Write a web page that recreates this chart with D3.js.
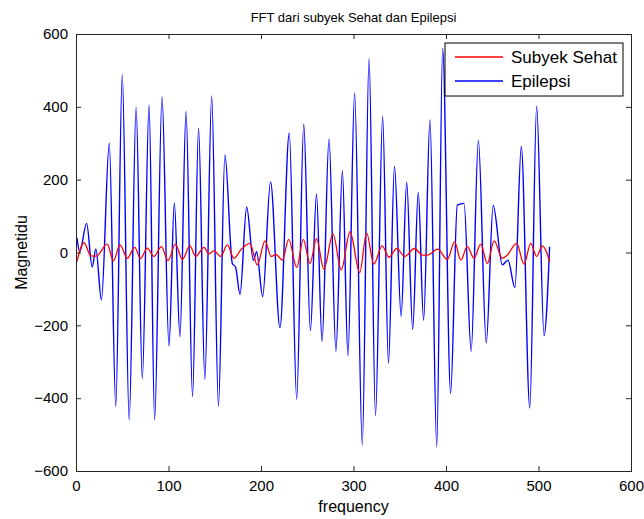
<!DOCTYPE html>
<html>
<head>
<meta charset="utf-8">
<script src="https://cdn.jsdelivr.net/npm/d3@7"></script>
<style>
  html, body { margin: 0; padding: 0; background: #fff; }
  svg { display: block; font-family: 'Liberation Sans', Arial, sans-serif; }
</style>
</head>
<body>
<div id="chart"></div>
<script>
// peaks and troughs (frequency, magnitude)
const epiFreq = [1, 4, 11.5, 17.5, 21.5, 27.5, 36, 43, 50, 57.5, 65, 71.7, 79, 85, 93, 100.5,
  106.3, 112.4, 119, 126, 132.5, 139.3, 146.7, 154, 161, 169, 172.5, 177.3, 184.5, 191.7,
  195.3, 201.8, 210.3, 220.5, 230.6, 238.6, 246.2, 253.4, 260, 266, 273.5, 281, 288, 294,
  301.2, 309.5, 316.8, 323.8, 331.5, 337.8, 344.3, 351.5, 357.5, 364, 370, 375.8, 382.7,
  390, 396.4, 405, 412.2, 419.5, 427.2, 435, 443.5, 451, 460.9, 467, 474.5, 481.4, 490.6,
  498, 506, 512];
const epiMag = [40, 2, 80, -40, 10, -130, 300, -423, 489, -460, 398, -346, 405, -460, 428, -257,
  136, -231, 387, -396, 341, -348, 430, -422, 268, -30, -40, -115, 125, -21,
  2, -121, 194, -206, 328, -403, 352, -214, 161, -244, 312, -271, 224, -284,
  438, -529, 533, -448, 374, -304, 236, -175, 193, -211, 165, -186, 365,
  -534, 560, -387, 130, 135, -271, 308, -248, 129, -34, -21, -96, 291, -427,
  402, -228, 16];

const sehatFreq = [1, 8.6, 16, 22, 33.8, 40.4, 47.6, 55.5, 63.4, 69.9, 77, 84.3, 92.3, 99.5,
  107.4, 115, 123.2, 129.4, 138.4, 143.8, 149.2, 156.4, 163.6, 170.8, 178, 188, 196, 204.3,
  211, 216, 223, 230, 238.6, 245.7, 253, 260, 268, 277.8, 286.8, 296.2, 306.7, 314.2, 322,
  331, 338.4, 346.7, 355.3, 366, 374.4, 380, 391, 401.4, 409.4, 416, 423, 430.3, 437.5,
  444.7, 452, 460.9, 466, 476.4, 484.3, 491.6, 498, 504, 508, 512];
const sehatMag = [-25, 27, -9, -10, 23, -23, 21, -16, 14, -16, 12, -11, 16, -22,
  23, -19, 18, -11, 14, -4, 5, -11, 21, -16, 7, 25, -34, 32,
  -11, -5, -21, 36, -41, 36, -30, 38, -46, 51, -48, 57, -55, 53, -32,
  18, -13, 11, -11, 11, -7, -7, 9, -19, 29, -21, 16, -16, 23,
  -30, 32, -16, -8, 25, -32, 25, -11, 18, 5, -25];

const xTicks = [0, 100, 200, 300, 400, 500, 600];
const yTicks = [-600, -400, -200, 0, 200, 400, 600];
const seriesNames = ['Subyek Sehat', 'Epilepsi'];
const seriesColors = ['#ff0000', '#0000ff'];

const width = 644, height = 519;
const margin = { top: 34, right: 13, bottom: 48, left: 76 };

const svg = d3.select('#chart').append('svg')
  .attr('width', width)
  .attr('height', height);

const x = d3.scaleLinear().domain([0, 600]).range([margin.left, width - margin.right]);
const y = d3.scaleLinear().domain([-600, 600]).range([height - margin.bottom, margin.top]);

const line = d3.line()
  .x(d => x(d[0]))
  .y(d => y(d[1]))
  .curve(d3.curveMonotoneX);

const epi = epiFreq.map((f, i) => [f, epiMag[i]]);
const sehat = sehatFreq.map((f, i) => [f, sehatMag[i]]);

svg.append('path').datum(epi)
  .attr('fill', 'none').attr('stroke', seriesColors[1]).attr('stroke-width', 1.4)
  .attr('d', line);

svg.append('path').datum(sehat)
  .attr('fill', 'none').attr('stroke', seriesColors[0]).attr('stroke-width', 1.3)
  .attr('d', line);

// MATLAB style box, ticks pointing inward on every side
function styleAxis(g, showText) {
  g.select('.domain').attr('stroke', '#262626').attr('stroke-width', 1.2);
  g.selectAll('.tick line').attr('stroke', '#262626');
  g.selectAll('.tick text')
    .attr('fill', '#000')
    .style('font-size', '15px')
    .style('display', showText ? null : 'none');
}

svg.append('g')
  .attr('transform', `translate(0,${y(-600)})`)
  .call(d3.axisBottom(x).tickValues(xTicks).tickSizeInner(-5).tickSizeOuter(0).tickPadding(9))
  .call(g => styleAxis(g, true));

svg.append('g')
  .attr('transform', `translate(0,${y(600)})`)
  .call(d3.axisTop(x).tickValues(xTicks).tickSizeInner(-5).tickSizeOuter(0))
  .call(g => styleAxis(g, false));

svg.append('g')
  .attr('transform', `translate(${x(0)},0)`)
  .call(d3.axisLeft(y).tickValues(yTicks).tickSizeInner(-5).tickSizeOuter(0).tickPadding(8))
  .call(g => styleAxis(g, true));

svg.append('g')
  .attr('transform', `translate(${x(600)},0)`)
  .call(d3.axisRight(y).tickValues(yTicks).tickSizeInner(-5).tickSizeOuter(0))
  .call(g => styleAxis(g, false));

svg.selectAll('.domain').attr('shape-rendering', 'crispEdges');

// titles
svg.append('text')
  .attr('x', (x(0) + x(600)) / 2).attr('y', 22)
  .attr('text-anchor', 'middle')
  .style('font-size', '13px')
  .text('FFT dari subyek Sehat dan Epilepsi');

svg.append('text')
  .attr('x', (x(0) + x(600)) / 2).attr('y', 512)
  .attr('text-anchor', 'middle')
  .style('font-size', '16px')
  .text('frequency');

svg.append('text')
  .attr('transform', `translate(27,${y(0)}) rotate(-90)`)
  .attr('text-anchor', 'middle')
  .style('font-size', '16px')
  .text('Magnetidu');

// legend
const legend = svg.append('g').attr('transform', 'translate(445,43)');
legend.append('rect')
  .attr('width', 178).attr('height', 53)
  .attr('fill', '#fff').attr('stroke', '#000').attr('stroke-width', 1);

seriesNames.forEach((name, i) => {
  const row = legend.append('g').attr('transform', `translate(0,${14 + i * 24})`);
  row.append('line')
    .attr('x1', 10).attr('x2', 58)
    .attr('stroke', seriesColors[i]).attr('stroke-width', 1.3);
  row.append('text')
    .attr('x', 66).attr('y', 6)
    .style('font-size', '17px')
    .text(name);
});
</script>
</body>
</html>
